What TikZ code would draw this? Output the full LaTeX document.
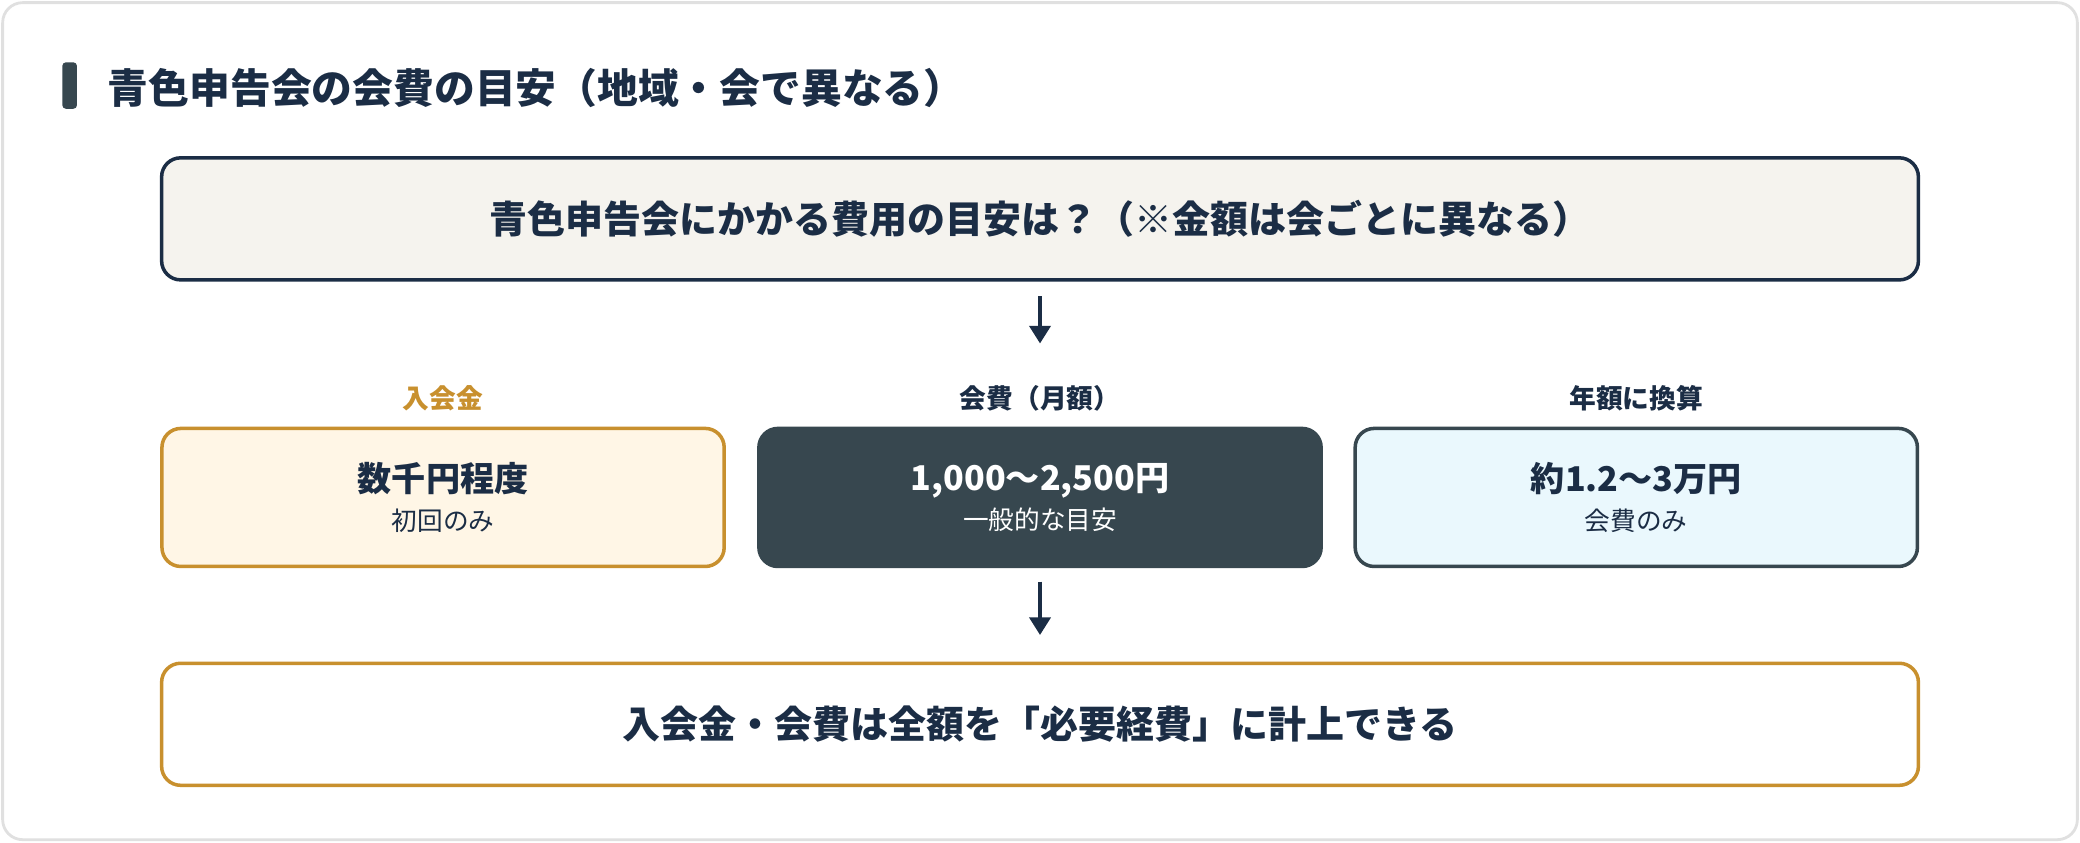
\documentclass[tikz,border=0pt]{standalone}
\usepackage{fontspec}
\setmainfont{Noto Sans CJK JP}
\usetikzlibrary{arrows.meta,positioning,calc}
\definecolor{navy}{HTML}{1B2D45}
\definecolor{slate}{HTML}{37474F}
\definecolor{gold}{HTML}{C8902E}
\definecolor{cream}{HTML}{FFF6E6}
\definecolor{paper}{HTML}{F5F3EE}
\definecolor{ice}{HTML}{EAF8FD}
\tikzset{
  wide/.style={draw=navy, line width=1pt, rounded corners=0.19cm,
    minimum width=17.56cm, minimum height=1.22cm, text=navy,
    font=\fontsize{10.8pt}{13pt}\selectfont\bfseries},
  card/.style={line width=1pt, rounded corners=0.19cm, align=center,
    minimum width=5.62cm, minimum height=1.38cm, text=navy},
  head/.style={font=\fontsize{7.6pt}{9pt}\selectfont\bfseries, text=navy},
  flow/.style={-{Triangle[length=5pt,width=6pt]}, navy, line width=1pt}
}
\newcommand{\cardtext}[2]{{\fontsize{9.7pt}{12pt}\selectfont\bfseries #1}\\[-1pt]{\fontsize{7.3pt}{9pt}\selectfont #2}}
\begin{document}
\begin{tikzpicture}[x=0.013265cm,y=-0.013265cm]
  % frame
  \draw[black!12, line width=0.8pt, rounded corners=0.2cm, fill=white] (2,2) rectangle (1566,633);
  \useasboundingbox (0,0) rectangle (1568,635);

  % title
  \fill[slate, rounded corners=1pt] (47,47) rectangle (58,82);
  \node[anchor=west, text=navy, font=\fontsize{11.6pt}{14pt}\selectfont\bfseries] (title) at (72,66)
    {青色申告会の会費の目安（地域・会で異なる）};

  % question
  \node[wide, fill=paper] (ask) at (784,165) {青色申告会にかかる費用の目安は？（※金額は会ごとに異なる）};

  % three cards
  \node[head, text=gold] (jointag) at (334,300) {入会金};
  \node[head] (feetag) at (784,300) {会費（月額）};
  \node[head] (yeartag) at (1233.5,300) {年額に換算};
  \node[card, draw=gold, fill=cream] (join) at (334,375) {\cardtext{数千円程度}{初回のみ}};
  \node[card, draw=slate, fill=slate, text=white] (fee) at (784,375) {\cardtext{1,000〜2,500円}{一般的な目安}};
  \node[card, draw=slate, fill=ice] (year) at (1233.5,375) {\cardtext{約1.2〜3万円}{会費のみ}};

  % result
  \node[wide, draw=gold, fill=white] (book) at (784,546) {入会金・会費は全額を「必要経費」に計上できる};

  \draw[flow, shorten <=11*0.013265cm, shorten >=22*0.013265cm] (ask.south) -- (feetag.north);
  \draw[flow, shorten <=10*0.013265cm, shorten >=20*0.013265cm] (fee.south) -- (book.north);
\end{tikzpicture}
\end{document}
